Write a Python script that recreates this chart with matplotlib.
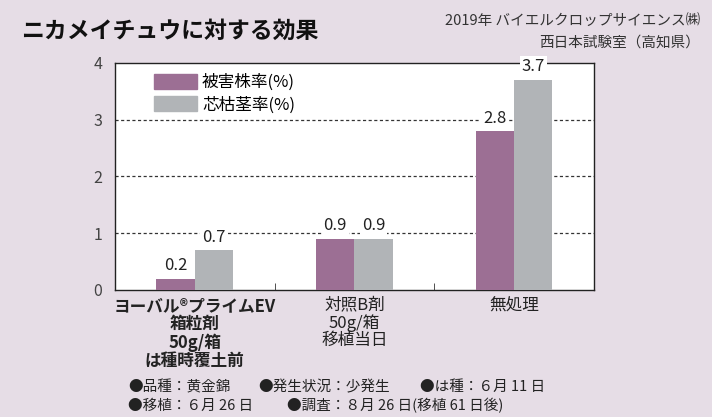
import numpy as np
import matplotlib
matplotlib.use("Agg")
import matplotlib.pyplot as plt
from matplotlib.patches import Patch

plt.rcParams['font.family'] = ['Noto Sans CJK JP', 'DejaVu Sans']

categories = ["ヨーバル®プライムEV\n箱粒剤\n50g/箱\nは種時覆土前", "対照B剤\n50g/箱\n移植当日", "無処理"]
damaged_plants = [0.2, 0.9, 2.8]
dead_stems = [0.7, 0.9, 3.7]
series_names = ["被害株率(%)", "芯枯茎率(%)"]
yticks = [0, 1, 2, 3, 4]

bg = "#E6DDE6"
purple = "#9C6F94"
gray = "#B1B4B7"

fig = plt.figure(figsize=(7.12, 4.17), dpi=100, facecolor=bg)
ax = fig.add_axes([0.1615, 0.3046, 0.6725, 0.5444])
ax.set_facecolor("white")

x = np.arange(len(categories))
w = 0.24
ax.bar(x - w / 2, damaged_plants, w, color=purple, zorder=3)
ax.bar(x + w / 2, dead_stems, w, color=gray, zorder=3)

for xi, v in zip(x - w / 2, damaged_plants):
    ax.text(xi, v + 0.08, f"{v}", ha="center", va="bottom", fontsize=12, zorder=4,
            color="#222222", bbox=dict(facecolor="white", edgecolor="none", pad=1.5))
for xi, v in zip(x + w / 2, dead_stems):
    ax.text(xi, v + 0.08, f"{v}", ha="center", va="bottom", fontsize=12, zorder=4,
            color="#222222", bbox=dict(facecolor="white", edgecolor="none", pad=1.5))

ax.set_xlim(-0.5, 2.5)
ax.set_ylim(0, 4)
ax.set_yticks(yticks)
ax.set_yticklabels([str(t) for t in yticks], fontsize=11.5, color="#444444")
ax.tick_params(axis="y", length=0, pad=9)
for t in [1, 2, 3]:
    ax.axhline(t, color="#333333", lw=0.9, ls=(0, (2.5, 2)), zorder=1)

# separators between categories
ax.set_xticks([0.5, 1.5], minor=True)
ax.tick_params(axis="x", which="minor", direction="in", length=5, color="#333333")
ax.set_xticks(x)
ax.set_xticklabels([])
ax.tick_params(axis="x", which="major", length=0)
for sp in ax.spines.values():
    sp.set_color("#222222")
    sp.set_linewidth(1.0)

for xi, lab in zip(x, categories):
    bold = xi == 0
    ax.text(xi, -0.12, lab, ha="center", va="top", fontsize=12,
            fontweight="bold" if bold else "normal", linespacing=1.02,
            color="#222222", clip_on=False)

handles = [Patch(color=purple), Patch(color=gray)]
ax.legend(handles, series_names, loc="upper left", bbox_to_anchor=(0.06, 0.995),
          frameon=False, fontsize=12, handlelength=2.6, handleheight=1.0,
          handletextpad=0.3, labelspacing=0.3, borderaxespad=0.2)

fig.text(0.03, 0.925, "ニカメイチュウに対する効果", fontsize=16.5, fontweight="bold",
         ha="left", va="center", color="#111111")
fig.text(0.983, 0.95, "2019年 バイエルクロップサイエンス㈱", fontsize=10.5,
         ha="right", va="center", color="#333333")
fig.text(0.983, 0.898, "西日本試験室（高知県）", fontsize=10.5,
         ha="right", va="center", color="#333333")

fy1 = 1 - 387 / 417
fy2 = 1 - 406 / 417
fig.text(128 / 712, fy1, "●品種：黄金錦", fontsize=10.5, va="center", color="#222222")
fig.text(258 / 712, fy1, "●発生状況：少発生", fontsize=10.5, va="center", color="#222222")
fig.text(420 / 712, fy1, "●は種：６月 11 日", fontsize=10.5, va="center", color="#222222")
fig.text(128 / 712, fy2, "●移植：６月 26 日", fontsize=10.5, va="center", color="#222222")
fig.text(287 / 712, fy2, "●調査：８月 26 日(移植 61 日後)", fontsize=10.5, va="center", color="#222222")

fig.savefig("out.png", dpi=100, facecolor=bg)
